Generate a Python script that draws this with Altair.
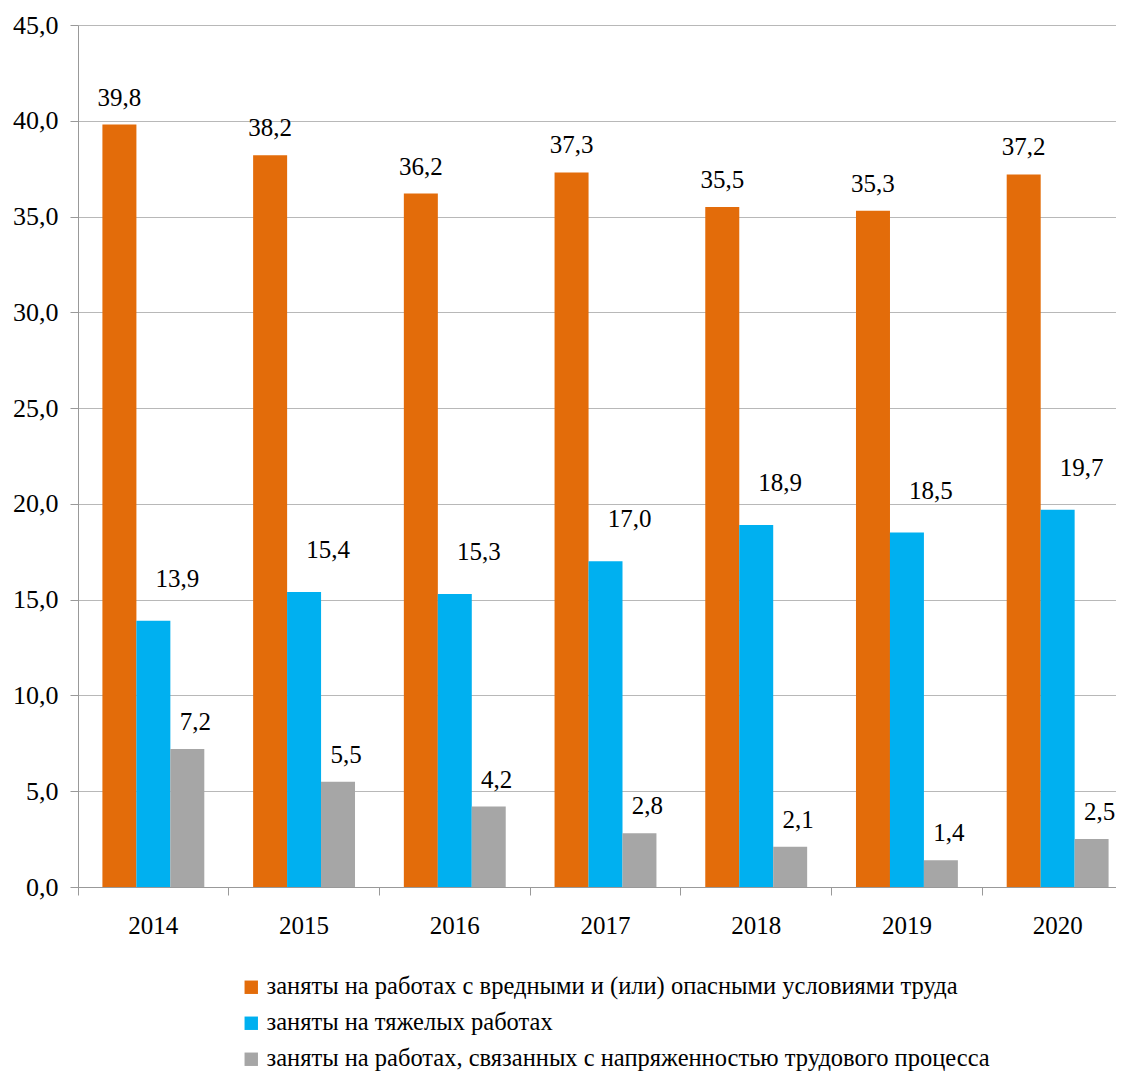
import altair as alt
import pandas as pd

years = ["2014", "2015", "2016", "2017", "2018", "2019", "2020"]
series = [
    "заняты на работах с вредными и (или) опасными условиями труда",
    "заняты на тяжелых работах",
    "заняты на работах, связанных с напряженностью трудового процесса",
]
harmful = [39.8, 38.2, 36.2, 37.3, 35.5, 35.3, 37.2]
heavy = [13.9, 15.4, 15.3, 17.0, 18.9, 18.5, 19.7]
tension = [7.2, 5.5, 4.2, 2.8, 2.1, 1.4, 2.5]
colors = ["#E36C0A", "#00B0F0", "#A6A6A6"]

rows = []
for s, vals in zip(series, [harmful, heavy, tension]):
    for y, v in zip(years, vals):
        rows.append({"year": y, "series": s, "value": v})
df = pd.DataFrame(rows)

SERIF = "Liberation Serif"

x_enc = alt.X(
    "year:N",
    sort=years,
    scale=alt.Scale(range=[0, 1055], paddingInner=0, paddingOuter=0),
    axis=alt.Axis(
        title="",
        bandPosition=0,
        labelFont=SERIF,
        labelFontSize=25,
        labelColor="#000000",
        labelPadding=18,
        labelAngle=0,
        tickSize=8,
        tickColor="#999999",
        domainColor="#999999",
        grid=False,
    ),
)
xoff_enc = alt.XOffset(
    "series:N",
    sort=series,
    scale=alt.Scale(domain=series, paddingInner=0, paddingOuter=0.72),
)
y_enc = alt.Y(
    "value:Q",
    scale=alt.Scale(domain=[0, 45], nice=False),
    axis=alt.Axis(
        title="",
        values=[0, 5, 10, 15, 20, 25, 30, 35, 40, 45],
        labelExpr="replace(format(datum.value, '.1f'), '.', ',')",
        labelFont=SERIF,
        labelFontSize=26,
        labelColor="#000000",
        labelPadding=12,
        tickSize=8,
        tickColor="#999999",
        domainColor="#999999",
        gridColor="#b8b8b8",
        gridWidth=1,
    ),
)

bars = alt.Chart(df).mark_bar(size=34).encode(
    x=x_enc,
    xOffset=xoff_enc,
    y=y_enc,
    color=alt.Color(
        "series:N",
        sort=series,
        scale=alt.Scale(domain=series, range=colors),
        legend=alt.Legend(
            title=None,
            orient="none",
            legendX=161,
            legendY=950,
            direction="vertical",
            symbolType="square",
            symbolSize=180,
            symbolStrokeWidth=0,
            labelFont=SERIF,
            labelFontSize=24.5,
            labelColor="#000000",
            labelLimit=1000,
            rowPadding=11,
            labelOffset=3,
        ),
    ),
)

offsets = [(0, -27), (24, -42), (8, -27)]
texts = []
for s, (dx, dy) in zip(series, offsets):
    t = (
        alt.Chart(df)
        .transform_filter(alt.datum.series == s)
        .transform_calculate(label="replace(format(datum.value, '.1f'), '.', ',')")
        .mark_text(font=SERIF, fontSize=25, color="#000000", dx=dx, dy=dy, baseline="middle", align="center")
        .encode(x=x_enc, xOffset=xoff_enc, y=y_enc, text="label:N")
    )
    texts.append(t)

chart = (
    alt.layer(bars, *texts)
    .properties(
        width=1038,
        height=862,
        autosize=alt.AutoSizeParams(type="none"),
        padding={"left": 70, "top": 17, "right": 0, "bottom": 184},
    )
    .configure_view(stroke=None)
)

chart.save("out.html", embed_options={"renderer": "svg", "actions": False})
